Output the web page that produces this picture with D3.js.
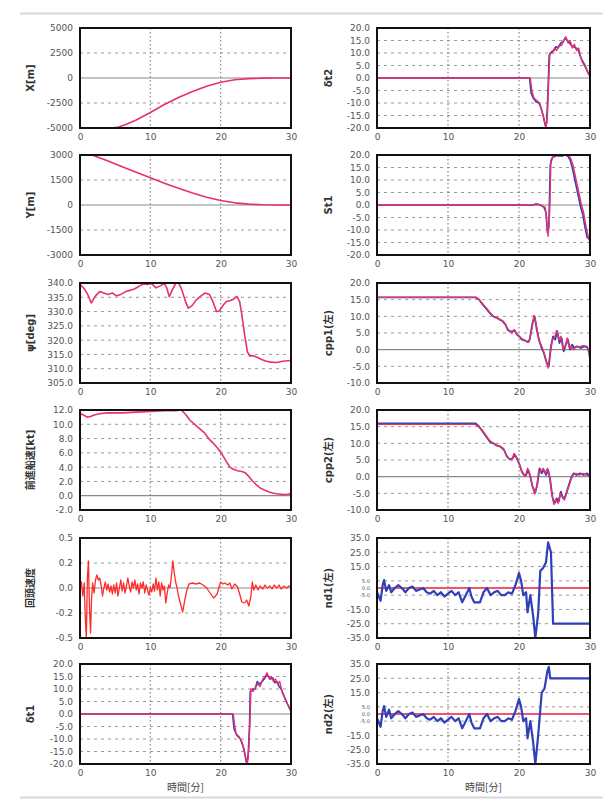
<!DOCTYPE html>
<html><head><meta charset="utf-8">
<script src="https://cdn.jsdelivr.net/npm/d3@7"></script>
<style>body{margin:0;background:#fff;} svg{display:block;font-family:"DejaVu Sans",sans-serif;}</style>
</head><body><svg id="c" width="603" height="803"></svg>
<script>
// ---------- data ----------
const timeTicks = [0, 10, 20, 30];
const ticksXm = [-5000, -2500, 0, 2500, 5000];
const labelsXm = ["-5000", "-2500", "0", "2500", "5000"];
const ticksYm = [-3000, -1500, 0, 1500, 3000];
const labelsYm = ["-3000", "-1500", "0", "1500", "3000"];
const ticksPsi = [305, 310, 315, 320, 325, 330, 335, 340];
const ticksSpd = [-2, 0, 2, 4, 6, 8, 10, 12];
const ticksRot = [-0.5, -0.25, 0, 0.25, 0.5];
const labelsRot = ["-0.5", "-0.2", "0.0", "0.2", "0.5"];
const ticksDelta = [-20, -15, -10, -5, 0, 5, 10, 15, 20];
const ticksCpp = [-10, -5, 0, 5, 10, 15, 20];
const ticksNd = [-35, -25, -15, -5, 0, 5, 15, 25, 35];
const smallTicksNd = [-5, 0, 5];

const xPos = [[0,-5000],[3,-5000],[4.5,-5000],[5.5,-4900],[6.5,-4650],[8,-4200],[10,-3450],[12,-2650],[14,-1950],[16,-1350],[18,-820],[20,-420],[22,-170],[24,-60],[26,-15],[28,0],[30,0]];
const yPos = [[0,3250],[2,2950],[4,2640],[6,2300],[8,1960],[10,1630],[12,1310],[14,1010],[16,720],[18,470],[20,270],[22,130],[24,50],[26,12],[28,0],[30,0]];
const psi = [[0,339.5],[0.6,338],[1.1,336],[1.6,333],[2.2,335.5],[2.8,337],[3.4,336.5],[4,336],[4.6,336.5],[5.2,335.5],[5.8,336],[6.5,337],[7.2,337.5],[7.8,338],[8.5,339],[9,339.7],[9.6,339.5],[10.2,339.8],[10.8,338.3],[11.4,339],[12,339.8],[12.3,338.5],[12.7,335.2],[13.1,337.5],[13.6,339.8],[14,340.2],[14.5,337.5],[15,333.5],[15.4,331.2],[15.9,332],[16.5,334],[17.2,335.5],[17.8,336.5],[18.4,336],[18.9,333.5],[19.4,330],[19.8,330.2],[20.3,332],[20.8,333.5],[21.3,333.8],[21.8,334.3],[22.3,335.3],[22.7,333.5],[23,329],[23.4,322],[23.8,316],[24.1,314.5],[24.6,314.5],[25.2,314],[25.8,313.2],[26.5,312.6],[27.2,312.3],[28,312.2],[28.8,312.6],[29.5,312.8],[30,312.9]];
const speed = [[0,11.5],[0.5,11.3],[1,11.0],[1.5,11.1],[2,11.3],[3,11.5],[4,11.6],[6,11.6],[8,11.7],[10,11.8],[12,11.9],[13.5,11.9],[14.4,12.0],[15,11.4],[15.6,10.6],[16.3,10.0],[17,9.4],[17.7,8.8],[18.3,8.0],[19,7.3],[19.6,6.6],[20.2,5.8],[20.8,4.8],[21.3,4.0],[21.8,3.7],[22.4,3.5],[23,3.4],[23.5,3.2],[24,2.7],[24.5,2.1],[25,1.6],[25.6,1.1],[26.2,0.8],[26.8,0.55],[27.5,0.35],[28.2,0.25],[29,0.15],[29.5,0.2],[30,0.3]];
const rotRate = [[0,0.0],[0.2,0.06],[0.4,-0.08],[0.6,0.05],[0.75,-0.3],[0.9,-0.5],[1.05,0.1],[1.2,0.27],[1.35,-0.2],[1.5,-0.45],[1.65,-0.1],[1.8,0.05],[2.0,-0.05],[2.2,0.08],[2.4,0.13],[2.6,0.08],[2.8,0.1],[3.0,0.03],[3.2,-0.08],[3.4,0.0],[3.6,0.06],[3.8,-0.02],[4.0,0.04],[4.2,-0.04],[4.4,0.02],[4.6,-0.06],[4.8,0.03],[5.0,-0.05],[5.2,0.05],[5.4,-0.08],[5.6,0.0],[5.8,0.08],[6.0,-0.03],[6.2,0.05],[6.4,-0.05],[6.6,0.02],[6.8,0.1],[7.0,0.02],[7.2,-0.04],[7.4,0.06],[7.6,0.0],[7.8,0.08],[8.0,-0.02],[8.2,0.04],[8.4,-0.06],[8.6,0.05],[8.8,0.0],[9.0,0.06],[9.2,-0.05],[9.4,0.03],[9.6,-0.02],[9.8,-0.07],[10.0,0.0],[10.2,-0.04],[10.4,0.04],[10.6,-0.03],[10.8,0.1],[11.0,-0.02],[11.2,0.06],[11.4,-0.08],[11.6,0.05],[11.8,-0.02],[12.0,0.02],[12.2,-0.15],[12.4,-0.05],[12.6,0.03],[12.8,0.0],[13.0,0.12],[13.2,0.27],[13.4,0.15],[13.6,0.06],[13.8,0.0],[14.0,-0.08],[14.3,-0.16],[14.6,-0.24],[14.9,-0.12],[15.2,-0.02],[15.5,0.04],[16.0,0.05],[16.5,0.04],[17.0,0.05],[17.5,0.03],[18.0,0.0],[18.5,-0.05],[19.0,-0.1],[19.5,-0.06],[19.8,0.02],[20.0,0.06],[20.3,0.04],[20.6,0.05],[21.0,0.03],[21.3,0.05],[21.6,-0.01],[22.0,0.04],[22.4,0.01],[22.7,-0.06],[23.0,-0.14],[23.4,-0.15],[23.7,-0.12],[24.0,-0.18],[24.3,-0.08],[24.5,0.06],[24.7,-0.02],[25.0,0.03],[25.3,-0.02],[25.6,0.02],[26.0,-0.01],[26.3,0.03],[26.6,0.0],[27.0,0.02],[27.3,-0.01],[27.6,0.03],[28.0,0.0],[28.3,0.03],[28.6,-0.01],[29.0,0.02],[29.4,0.0],[29.7,0.02],[30.0,0.01]];

const dt1Red = [[0,0],[21.8,0],[22.0,-5],[22.2,-8],[22.6,-9],[23.0,-11],[23.3,-14],[23.6,-18],[23.8,-20],[24.0,-14],[24.2,0],[24.3,10],[24.6,9],[25.0,11],[25.3,12],[25.6,11],[26.0,14],[26.3,15],[26.6,16.5],[26.9,14],[27.2,15],[27.5,13],[27.8,14],[28.1,12],[28.4,13],[28.7,9],[29.0,7],[29.3,5],[29.6,3.5],[30,1.5]];
const dt1Blue = [[0,0],[21.7,0],[21.9,-6],[22.3,-8.5],[22.8,-10],[23.2,-13],[23.5,-17],[23.7,-20],[23.9,-17],[24.1,-5],[24.2,9],[24.5,10],[24.9,10],[25.2,13],[25.5,12],[25.9,13],[26.2,14],[26.5,15.5],[26.8,15],[27.1,14],[27.4,14.5],[27.7,12.5],[28.0,13],[28.3,11],[28.6,10],[28.9,8],[29.2,6],[29.5,4],[30,1]];
const dt2Red = [[0,0],[21.6,0],[21.8,-5],[22.1,-8],[22.5,-9],[22.9,-10],[23.2,-13],[23.5,-16],[23.8,-20],[24.0,-15],[24.2,0],[24.35,10],[24.7,10],[25.0,12],[25.3,11],[25.6,13],[26.0,13],[26.3,15],[26.6,16.5],[26.9,14],[27.2,15],[27.5,12],[27.8,13.5],[28.1,11],[28.4,12],[28.7,8],[29.0,6],[29.4,4],[29.7,2],[30,1]];
const dt2Blue = [[0,0],[21.5,0],[21.7,-6],[22.0,-8],[22.4,-9.5],[22.8,-10],[23.1,-12],[23.4,-15],[23.7,-19],[23.9,-18],[24.1,-4],[24.25,9],[24.6,10.5],[24.9,11],[25.2,12.5],[25.5,12],[25.9,14],[26.2,14.5],[26.5,16],[26.8,15],[27.1,14],[27.4,13],[27.7,12.5],[28.0,12],[28.3,11.5],[28.6,9],[28.9,7],[29.3,5],[29.6,3],[30,0.5]];
const st1Red = [[0,0],[22.0,0],[22.3,0.5],[22.8,0.3],[23.3,-0.5],[23.7,-1],[23.9,-6],[24.1,-12.5],[24.3,-4],[24.5,18],[24.8,19.5],[25.2,20],[25.6,19.5],[26,20],[26.5,20],[27,19.8],[27.3,18.5],[27.6,16],[27.9,12],[28.2,8],[28.5,4],[28.8,0],[29.1,-3],[29.4,-8],[29.7,-12],[30,-15]];
const st1Blue = [[0,0],[22.0,0],[22.4,0.3],[23.0,0],[23.5,-0.8],[23.8,-3],[24.0,-11],[24.2,-9],[24.4,16],[24.7,19],[25.1,19.5],[25.5,20],[26,19.5],[26.5,20],[26.9,19.5],[27.2,18],[27.5,15],[27.8,11],[28.1,7],[28.4,3],[28.7,-1],[29.0,-4],[29.3,-9],[29.6,-13],[30,-14]];
const cpp1Red = [[0,15.7],[13.8,15.7],[14.3,15.2],[14.8,14],[15.2,13],[15.6,12],[16,10.8],[16.4,10],[16.8,9.8],[17.2,9.2],[17.6,8.8],[18,8],[18.3,6.5],[18.6,5.8],[19,5],[19.3,6],[19.6,5],[20,4],[20.3,3.5],[20.6,3],[21,2.5],[21.4,2.2],[21.8,6],[22.1,10.3],[22.4,8],[22.7,4],[23,2],[23.4,0],[23.8,-3],[24.1,-5.5],[24.4,-1],[24.7,3],[25,3.5],[25.3,5.8],[25.6,3],[25.9,4],[26.2,0],[26.5,1],[26.8,3.5],[27.1,0.5],[27.4,1],[27.7,0],[28,1],[28.5,0.8],[29,1.2],[29.5,1],[29.8,0],[30,-3]];
const cpp1Blue = [[0,15.7],[13.9,15.7],[14.4,15],[14.9,13.5],[15.3,12.5],[15.7,11.5],[16.1,10.5],[16.5,9.8],[16.9,9.5],[17.3,9],[17.7,8.5],[18.1,7.5],[18.4,6],[18.7,5.5],[19.1,5.5],[19.4,5.8],[19.7,4.5],[20.1,3.8],[20.4,3],[20.8,2.8],[21.2,2.3],[21.5,3],[21.9,8],[22.2,10],[22.5,6],[22.8,3],[23.1,1],[23.5,-1],[23.9,-4],[24.2,-5],[24.5,1],[24.8,4],[25.1,3],[25.4,5.5],[25.7,2],[26,3.5],[26.3,-0.5],[26.6,1.5],[26.9,3],[27.2,0],[27.5,1.5],[27.8,0.5],[28.2,1],[28.7,0.5],[29.2,1],[29.6,0.8],[29.9,-1],[30,-2.5]];
const cpp2Red = [[0,15.7],[13.8,15.7],[14.3,15],[14.8,14],[15.3,12.5],[15.8,11],[16.3,10],[16.8,9.5],[17.3,9],[17.8,8.5],[18.2,6.5],[18.6,5.5],[19,5],[19.3,7],[19.6,6],[20,4],[20.3,2],[20.6,1],[20.9,0],[21.2,2.5],[21.5,1],[21.8,-2],[22.2,-5.2],[22.5,-3],[22.8,2],[23.1,1.5],[23.4,2.5],[23.7,1],[24,2.5],[24.3,0],[24.6,-5],[24.9,-8.3],[25.2,-7],[25.5,-8],[25.8,-5],[26.1,-6],[26.4,-7],[26.7,-5],[27,-3],[27.3,-1],[27.6,0.5],[28,1],[28.5,0.5],[29,1],[29.5,0.5],[30,0.2]];
const cpp2Blue = [[0,16.0],[13.9,16.0],[14.4,15],[14.9,13.5],[15.4,12],[15.9,10.5],[16.4,10],[16.9,9.3],[17.4,9],[17.9,8],[18.3,6],[18.7,5.2],[19.1,5.5],[19.4,6.5],[19.7,5.5],[20.1,3.5],[20.4,1.5],[20.7,0.5],[21,0.5],[21.3,2],[21.6,0],[21.9,-3],[22.3,-4.8],[22.6,-2],[22.9,2.5],[23.2,1],[23.5,2],[23.8,0.5],[24.1,2],[24.4,-1],[24.7,-6],[25,-8],[25.3,-6.5],[25.6,-7.5],[25.9,-4.5],[26.2,-6.5],[26.5,-6],[26.8,-4],[27.1,-2],[27.4,0],[27.7,1],[28.1,0.5],[28.6,1],[29.1,0.5],[29.6,1],[30,0]];
const nd1Blue = [[0,-3],[0.5,-9],[0.8,2],[1,5.5],[1.3,-2],[1.7,2],[2,-3],[2.5,0],[3,2],[3.5,0],[4,-3],[4.5,0],[5,1],[5.5,-2],[6,-1],[6.5,0],[7,-3],[7.5,-4],[8,-2],[8.5,-5],[9,-3],[9.5,-6],[10,-4],[10.5,-2],[11,-5],[11.5,-3],[12,-10],[12.5,-5],[13,0],[13.3,-6],[13.7,-10],[14,-10],[14.5,-10],[15,-3],[15.5,0],[16,-5],[16.5,-3],[17,-2],[17.5,-5],[18,-5],[18.5,-3],[19,-4],[19.5,2],[20,10.5],[20.3,5],[20.6,-5],[21,-3],[21.2,-17],[21.6,-5],[22,-20],[22.3,-35],[22.7,-18],[23,12],[23.4,14],[23.8,18],[24.1,32],[24.5,25],[24.8,-25],[30,-25]];
const nd1Red = [[0,0],[30,0]];
const nd2Blue = [[0,-3],[0.5,-9],[0.8,2],[1,5.5],[1.3,-2],[1.7,3],[2,-3],[2.5,0],[3,2],[3.5,0],[4,-3],[4.5,0],[5,1],[5.5,-2],[6,-1],[6.5,0],[7,-3],[7.5,-4],[8,-2],[8.5,-5],[9,-3],[9.5,-6],[10,-4],[10.5,-2],[11,-5],[11.5,-3],[12,-10],[12.5,-5],[13,0],[13.3,-6],[13.7,-10],[14,-10],[14.5,-10],[15,-3],[15.5,0],[16,-5],[16.5,-3],[17,-2],[17.5,-5],[18,-5],[18.5,-3],[19,-4],[19.5,2],[20,10.5],[20.3,5],[20.6,-5],[21,-3],[21.2,-17],[21.6,-5],[22,-20],[22.3,-35],[22.7,-15],[23.2,15],[23.6,18],[24,30],[24.2,33],[24.4,25],[30,25]];
const nd2Red = [[0,0],[30,0]];

// ---------- layout ----------
const colX = [[80, 291], [377, 590]];
const rowTop = [28, 155, 283, 410, 538, 664];
const panelH = 100;
const PINK = "#e8306a", RED = "#ff2a2a", BLUE = "#3040b8";

const panels = [
  {c:0,r:0,label:"X[m]",dom:[-5000,5000],ticks:ticksXm,labels:labelsXm,zero:true,series:[[xPos,PINK,1.6]]},
  {c:0,r:1,label:"Y[m]",dom:[-3000,3000],ticks:ticksYm,labels:labelsYm,zero:true,series:[[yPos,PINK,1.6]]},
  {c:0,r:2,label:"ψ[deg]",dom:[305,340],ticks:ticksPsi,zero:false,series:[[psi,PINK,1.6]]},
  {c:0,r:3,label:"前進船速[kt]",dom:[-2,12],ticks:ticksSpd,zero:true,series:[[speed,PINK,1.6]]},
  {c:0,r:4,label:"回頭速度",dom:[-0.5,0.5],ticks:ticksRot,labels:labelsRot,zero:true,series:[[rotRate,RED,1.3]]},
  {c:0,r:5,label:"δt1",dom:[-20,20],ticks:ticksDelta,zero:true,series:[[dt1Blue,BLUE,1.6],[dt1Red,PINK,1.4]],xlabel:true},
  {c:1,r:0,label:"δt2",dom:[-20,20],ticks:ticksDelta,zero:true,series:[[dt2Blue,BLUE,1.6],[dt2Red,PINK,1.4]]},
  {c:1,r:1,label:"St1",dom:[-20,20],ticks:ticksDelta,zero:true,series:[[st1Blue,BLUE,1.6],[st1Red,PINK,1.4]]},
  {c:1,r:2,label:"cpp1(左)",dom:[-10,20],ticks:ticksCpp,zero:true,series:[[cpp1Blue,BLUE,1.8],[cpp1Red,PINK,1.4]]},
  {c:1,r:3,label:"cpp2(左)",dom:[-10,20],ticks:ticksCpp,zero:true,series:[[cpp2Blue,BLUE,1.8],[cpp2Red,PINK,1.4]]},
  {c:1,r:4,label:"nd1(左)",dom:[-35,35],ticks:ticksNd,small:smallTicksNd,zero:true,series:[[nd1Red,"#ff3050",1.3],[nd1Blue,BLUE,2.2]]},
  {c:1,r:5,label:"nd2(左)",dom:[-35,35],ticks:ticksNd,small:smallTicksNd,zero:true,series:[[nd2Red,"#ff3050",1.3],[nd2Blue,BLUE,2.2]],xlabel:true}
];

const svg = d3.select("#c");
// page frame lines
svg.append("line").attr("x1",20).attr("x2",603).attr("y1",13.5).attr("y2",13.5).attr("stroke","#d8d8d8").attr("stroke-width",2);
svg.append("line").attr("x1",20).attr("x2",603).attr("y1",797.5).attr("y2",797.5).attr("stroke","#d8d8d8").attr("stroke-width",2);

panels.forEach((p, i) => {
  const [x0, x1] = colX[p.c];
  const y0 = rowTop[p.r];
  const w = x1 - x0, h = panelH;
  const g = svg.append("g").attr("transform", `translate(${x0},${y0})`);
  const x = d3.scaleLinear().domain([0, 30]).range([0, w]);
  const y = d3.scaleLinear().domain(p.dom).range([h, 0]);

  g.append("rect").attr("width", w).attr("height", h).attr("fill", "#fff");

  // horizontal grid
  p.ticks.forEach(v => {
    if (v === p.dom[0] || v === p.dom[1]) return;
    const ln = g.append("line").attr("x1", 0).attr("x2", w).attr("y1", y(v)).attr("y2", y(v));
    if (v === 0 && p.zero) ln.attr("stroke", "#8a8a8a").attr("stroke-width", 1.2);
    else ln.attr("stroke", "#9a9a9a").attr("stroke-width", 1).attr("stroke-dasharray", "3,4");
  });
  // vertical grid
  [10, 20].forEach(v => {
    g.append("line").attr("x1", x(v)).attr("x2", x(v)).attr("y1", 0).attr("y2", h)
      .attr("stroke", "#888").attr("stroke-width", 1.2).attr("stroke-dasharray", "1.5,2.5");
  });

  g.append("clipPath").attr("id", "cp" + i).append("rect").attr("width", w).attr("height", h);
  const line = d3.line().x(d => x(d[0])).y(d => y(d[1]));
  p.series.forEach(([data, color, sw]) => {
    g.append("path").datum(data).attr("d", line).attr("fill", "none")
      .attr("stroke", color).attr("stroke-width", sw).attr("stroke-linejoin", "round")
      .attr("clip-path", `url(#cp${i})`);
  });

  g.append("rect").attr("width", w).attr("height", h).attr("fill", "none")
    .attr("stroke", "#111").attr("stroke-width", 2);

  const fmt = p.labels ? (d => p.labels[p.ticks.indexOf(d)]) : (d => d.toFixed(1));
  const ya = g.append("g").call(d3.axisLeft(y).tickValues(p.ticks).tickSize(0).tickPadding(7).tickFormat(fmt));
  ya.select(".domain").remove();
  ya.selectAll("text").attr("font-size", d => (p.small && p.small.includes(d)) ? 5.2 : 9)
    .attr("fill", "#555").attr("font-family", "DejaVu Sans");

  const xa = g.append("g").attr("transform", `translate(0,${h})`)
    .call(d3.axisBottom(x).tickValues(timeTicks).tickSize(0).tickPadding(6).tickFormat(d3.format("d")));
  xa.select(".domain").remove();
  xa.selectAll("text").attr("font-size", 9).attr("fill", "#555").attr("font-family", "DejaVu Sans");

  const lx = p.c === 0 ? -46 : -45;
  g.append("text").attr("transform", `translate(${lx},${h / 2}) rotate(-90)`)
    .attr("text-anchor", "middle").attr("font-size", 10).attr("font-weight", "bold")
    .attr("fill", "#333").attr("font-family", "DejaVu Sans, Noto Sans CJK JP").text(p.label);

  if (p.xlabel) {
    g.append("text").attr("x", w / 2).attr("y", h + 27).attr("text-anchor", "middle")
      .attr("font-size", 10).attr("fill", "#444").attr("font-family", "Noto Sans CJK JP").text("時間[分]");
  }
});
</script></body></html>
